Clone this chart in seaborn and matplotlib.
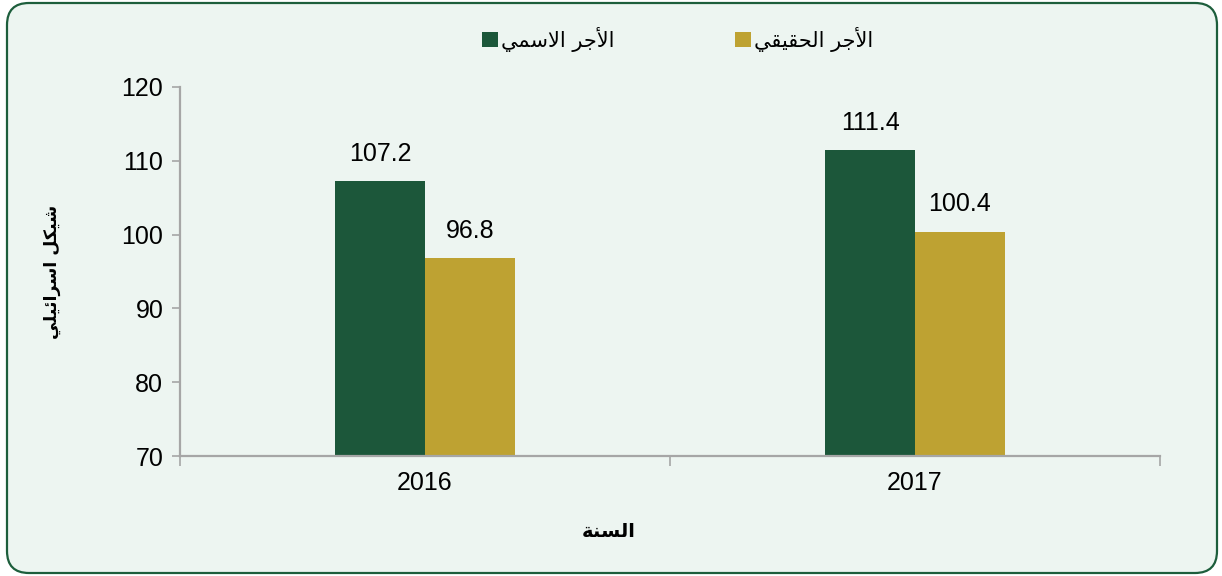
import unicodedata
import pandas as pd
import matplotlib
matplotlib.use("Agg")
import matplotlib.pyplot as plt
from matplotlib.patches import FancyBboxPatch, Patch
import seaborn as sns

# data
years = ["2016", "2017"]
nominal_wage = [107.2, 111.4]
real_wage = [96.8, 100.4]
series_names = ["الأجر الاسمي", "الأجر الحقيقي"]
y_label = "شيكل اسرائيلي"
x_label = "السنة"

green = "#1c573a"
gold = "#bea232"
bg = "#edf5f1"


# matplotlib has no arabic shaping, so pick presentation forms by hand
RIGHT_ONLY = set("اأإآدذرزوؤةى")
ALEFS = set("اأإآ")


def is_ar(c):
    return c is not None and "\u0621" <= c <= "\u064a"


def shape(text):
    out = []
    i = 0
    n = len(text)
    while i < n:
        c = text[i]
        if not is_ar(c):
            out.append(c)
            i += 1
            continue
        prev = text[i - 1] if i > 0 else None
        joins_prev = is_ar(prev) and prev not in RIGHT_ONLY and prev != "ء"
        if c == "ل" and i + 1 < n and text[i + 1] in ALEFS:
            alef = unicodedata.name(text[i + 1])[len("ARABIC LETTER "):]
            form = "FINAL FORM" if joins_prev else "ISOLATED FORM"
            out.append(unicodedata.lookup("ARABIC LIGATURE LAM WITH " + alef + " " + form))
            i += 2
            continue
        nxt = text[i + 1] if i + 1 < n else None
        joins_next = is_ar(nxt) and c not in RIGHT_ONLY and c != "ء"
        if joins_prev and joins_next:
            form = "MEDIAL FORM"
        elif joins_prev:
            form = "FINAL FORM"
        elif joins_next:
            form = "INITIAL FORM"
        else:
            form = "ISOLATED FORM"
        try:
            out.append(unicodedata.lookup(unicodedata.name(c) + " " + form))
        except KeyError:
            out.append(c)
        i += 1
    return "".join(out)[::-1]


df = pd.DataFrame({
    "year": years * 2,
    "value": nominal_wage + real_wage,
    "series": [shape(series_names[0])] * 2 + [shape(series_names[1])] * 2,
})

plt.rcParams["font.family"] = ["Liberation Sans", "DejaVu Sans"]

fig = plt.figure(figsize=(12.22, 5.76), dpi=100, facecolor="white")
frame = FancyBboxPatch((0.07, 0.03), 12.10, 5.70,
                       boxstyle="round,pad=0,rounding_size=0.22",
                       transform=fig.dpi_scale_trans, facecolor=bg,
                       edgecolor="#1d5e3c", linewidth=1.6, zorder=-10)
fig.patches.append(frame)

ax = fig.add_axes([0.1473, 0.2083, 0.802, 0.6407])
ax.set_facecolor("none")

sns.barplot(data=df, x="year", y="value", hue="series",
            palette=[green, gold], width=0.367, saturation=1,
            legend=False, ax=ax)

ax.set_ylim(70, 120)
ax.set_xlim(-0.5, 1.5)
ax.set_yticks(range(70, 121, 10))
ax.tick_params(axis="y", labelsize=18, length=6, color="#a6a6a6", width=1.2, pad=6)

ax.set_xticks([-0.5, 0.5, 1.5])
ax.set_xticklabels([])
ax.set_xticks([0, 1], minor=True)
ax.set_xticklabels(years, minor=True, fontsize=18)
ax.tick_params(axis="x", which="major", length=7, color="#a6a6a6", width=1.2)
ax.tick_params(axis="x", which="minor", length=0, pad=11)

for side in ["top", "right"]:
    ax.spines[side].set_visible(False)
for side in ["left", "bottom"]:
    ax.spines[side].set_color("#a6a6a6")
    ax.spines[side].set_linewidth(1.6)

for cont in ax.containers:
    ax.bar_label(cont, fmt="%.1f", fontsize=18, padding=11)

ax.set_xlabel(shape(x_label), family=["DejaVu Sans"], fontweight="bold", fontsize=14)
ax.xaxis.set_label_coords(0.437, -0.178)
ax.set_ylabel(shape(y_label), family=["DejaVu Sans"], fontweight="bold", fontsize=12.5)
ax.yaxis.set_label_coords(-0.121, 0.5)

handles = [Patch(facecolor=green), Patch(facecolor=gold)]
ax.legend(handles, [shape(s) for s in series_names], ncol=2, frameon=False,
          loc="center", bbox_to_anchor=(0.508, 1.13),
          prop={"family": ["DejaVu Sans"], "size": 15},
          handlelength=0.75, handleheight=0.75, handletextpad=0.15,
          columnspacing=5.8)

fig.savefig("out.png", dpi=100, facecolor="white")
